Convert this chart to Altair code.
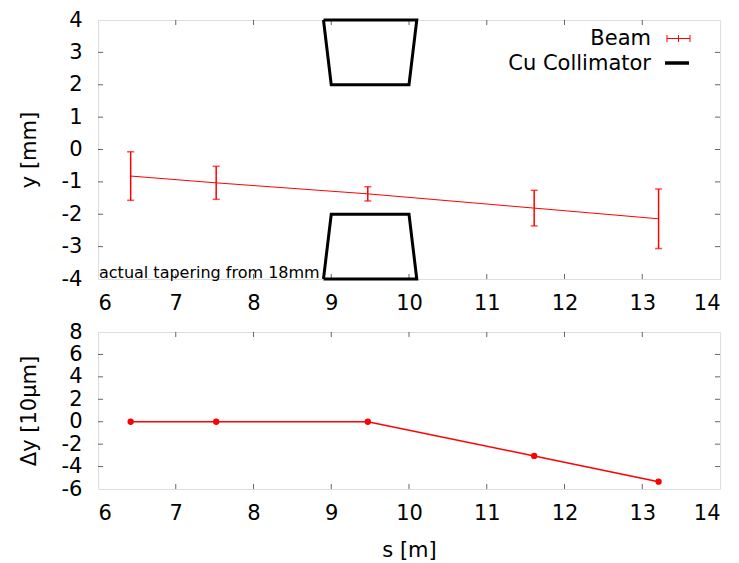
import altair as alt
import pandas as pd

# ---- data ----
s_pos = [6.42, 7.52, 9.47, 11.61, 13.21]
beam_y = [-0.82, -1.03, -1.37, -1.81, -2.14]
beam_err = [0.75, 0.51, 0.22, 0.55, 0.92]
delta_y = [0.0, 0.0, 0.0, -3.05, -5.35]

coll_s = [8.9, 9.0, 10.0, 10.1, 8.9]
coll_top_y = [4, 2, 2, 4, 4]
coll_bot_y = [-4, -2, -2, -4, -4]

x_ticks = [7, 8, 9, 10, 11, 12, 13]
x_labels = [6, 7, 8, 9, 10, 11, 12, 13, 14]
y_ticks_top = [-3, -2, -1, 0, 1, 2, 3]
y_labels_top = [-4, -3, -2, -1, 0, 1, 2, 3, 4]
y_ticks_bot = [-4, -2, 0, 2, 4, 6]
y_labels_bot = [-6, -4, -2, 0, 2, 4, 6, 8]

W = 622
H_TOP = 259
H_BOT = 157
FONT = "DejaVu Sans"
FS = 21
RED = "#ff0000"
TICK = "#666666"
LABEL_EXPR = "'' + datum.value"

beam = pd.DataFrame({"s": s_pos, "y": beam_y, "err": beam_err})
beam["lo"] = beam["y"] - beam["err"]
beam["hi"] = beam["y"] + beam["err"]
dev = pd.DataFrame({"s": s_pos, "dy": delta_y})
coll = pd.DataFrame({
    "s": coll_s + coll_s,
    "y": coll_top_y + coll_bot_y,
    "part": ["top"] * len(coll_s) + ["bot"] * len(coll_s),
    "o": list(range(len(coll_s))) * 2,
})

xscale = alt.Scale(domain=[6, 14], nice=False, zero=False)


def xaxis(title=None):
    return alt.Axis(values=x_labels, ticks=False, domain=False, grid=False,
                    labelPadding=13, labelFontSize=FS, labelFont=FONT,
                    labelColor="black", labelExpr=LABEL_EXPR, title=title,
                    titleFont=FONT, titleFontSize=FS, titleFontWeight="normal",
                    titleColor="black", titleX=W / 2, titleY=61,
                    titleBaseline="middle", titleAngle=0)


def yaxis(vals, title, h):
    return alt.Axis(values=vals, ticks=False, domain=False, grid=False,
                    labelPadding=16, labelFontSize=FS, labelFont=FONT,
                    labelColor="black", labelFlush=False, labelOverlap=False,
                    labelExpr=LABEL_EXPR,
                    title=title, titleFont=FONT, titleFontSize=FS,
                    titleFontWeight="normal", titleColor="black",
                    titleX=-69, titleY=h / 2, titleBaseline="middle",
                    titleAngle=270, titleAlign="center")


def tick_layers(xt, yt, yscale, yax, h, xax):
    xdf = pd.DataFrame({"t": xt})
    ydf = pd.DataFrame({"t": yt})
    X = alt.X("t:Q", scale=xscale, axis=xax)
    Y = alt.Y("t:Q", scale=yscale, axis=yax)
    base_x = alt.Chart(xdf).mark_rule(color=TICK, strokeWidth=1)
    base_y = alt.Chart(ydf).mark_rule(color=TICK, strokeWidth=1)
    return [
        base_x.encode(x=X, y=alt.value(0), y2=alt.value(5)),
        base_x.encode(x=X, y=alt.value(h - 5), y2=alt.value(h)),
        base_y.encode(y=Y, x=alt.value(0), x2=alt.value(5)),
        base_y.encode(y=Y, x=alt.value(W - 5), x2=alt.value(W)),
    ]


# ---------------- top panel ----------------
yscale_top = alt.Scale(domain=[-4, 4], nice=False, zero=False)
xa_top = xaxis(None)
ya_top = yaxis(y_labels_top, "y [mm]", H_TOP)
XT = alt.X("s:Q", scale=xscale, axis=xa_top)

top_layers = tick_layers(x_ticks, y_ticks_top, yscale_top, ya_top, H_TOP, xa_top)

collim = alt.Chart(coll).mark_line(color="black", strokeWidth=3, strokeJoin="miter").encode(
    x=XT, y=alt.Y("y:Q", scale=yscale_top, axis=ya_top),
    detail="part:N", order="o:Q")

beam_line = alt.Chart(beam).mark_line(color=RED, strokeWidth=1).encode(
    x=XT, y=alt.Y("y:Q", scale=yscale_top, axis=ya_top))
err_rule = alt.Chart(beam).mark_rule(color=RED, strokeWidth=1.5).encode(
    x=XT, y=alt.Y("lo:Q", scale=yscale_top, axis=ya_top), y2="hi:Q")
cap_lo = alt.Chart(beam).mark_tick(color=RED, orient="horizontal", size=7, thickness=1.5).encode(
    x=XT, y=alt.Y("lo:Q", scale=yscale_top, axis=ya_top))
cap_hi = alt.Chart(beam).mark_tick(color=RED, orient="horizontal", size=7, thickness=1.5).encode(
    x=XT, y=alt.Y("hi:Q", scale=yscale_top, axis=ya_top))

one = alt.Data(values=[{"k": 1}])
annot = alt.Chart(one).mark_text(align="left", baseline="alphabetic", font=FONT,
                                 fontSize=16, color="black").encode(
    x=alt.value(1), y=alt.value(H_TOP - 1), text=alt.value("actual tapering from 18mm"))

leg_beam_txt = alt.Chart(one).mark_text(align="right", baseline="middle", font=FONT,
                                        fontSize=FS, color="black").encode(
    x=alt.value(553), y=alt.value(19), text=alt.value("Beam"))
leg_coll_txt = alt.Chart(one).mark_text(align="right", baseline="middle", font=FONT,
                                        fontSize=FS, color="black").encode(
    x=alt.value(553), y=alt.value(43.5), text=alt.value("Cu Collimator"))
leg_beam_line = alt.Chart(one).mark_rule(color=RED, strokeWidth=1).encode(
    x=alt.value(569), x2=alt.value(592), y=alt.value(18.5))
leg_beam_caps = [
    alt.Chart(one).mark_rule(color=RED, strokeWidth=1).encode(
        x=alt.value(xv), y=alt.value(15), y2=alt.value(22))
    for xv in (569, 580.5, 592)
]
leg_coll_line = alt.Chart(one).mark_rule(color="black", strokeWidth=3.5).encode(
    x=alt.value(567), x2=alt.value(591), y=alt.value(43))

top = alt.layer(
    *top_layers, collim, beam_line, err_rule, cap_lo, cap_hi, annot,
    leg_beam_txt, leg_coll_txt, leg_beam_line, *leg_beam_caps, leg_coll_line
).properties(width=W, height=H_TOP)

# ---------------- bottom panel ----------------
yscale_bot = alt.Scale(domain=[-6, 8], nice=False, zero=False)
xa_bot = xaxis("s [m]")
ya_bot = yaxis(y_labels_bot, "Δy [10μm]", H_BOT)
XB = alt.X("s:Q", scale=xscale, axis=xa_bot)

bot_layers = tick_layers(x_ticks, y_ticks_bot, yscale_bot, ya_bot, H_BOT, xa_bot)
dev_line = alt.Chart(dev).mark_line(color=RED, strokeWidth=1.5).encode(
    x=XB, y=alt.Y("dy:Q", scale=yscale_bot, axis=ya_bot))
dev_pts = alt.Chart(dev).mark_circle(color=RED, size=40, opacity=1).encode(
    x=XB, y=alt.Y("dy:Q", scale=yscale_bot, axis=ya_bot))

bottom = alt.layer(*bot_layers, dev_line, dev_pts).properties(width=W, height=H_BOT)

chart = alt.vconcat(top, bottom, spacing=6).properties(
    padding={"left": 9, "top": 0, "right": 5, "bottom": 5}
).configure_view(stroke="#333333", strokeWidth=1.2).configure(background="white")

chart.save("out.html", embed_options={"renderer": "svg", "actions": False})
